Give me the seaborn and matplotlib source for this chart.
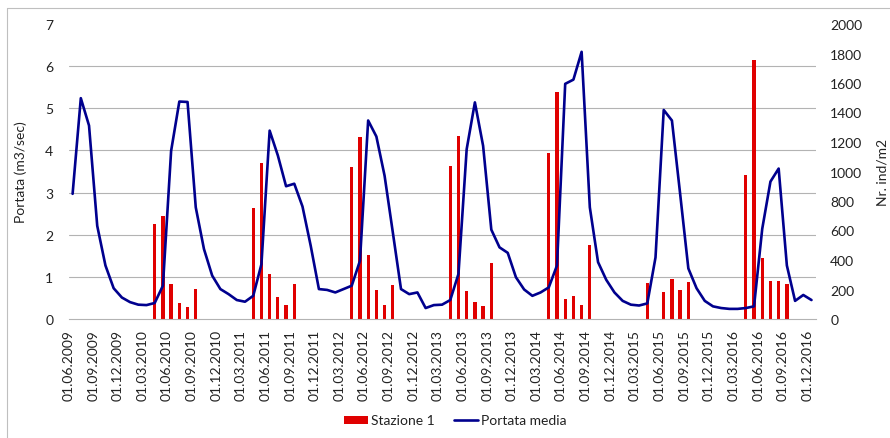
import numpy as np
import pandas as pd
import matplotlib
matplotlib.use("Agg")
import matplotlib.pyplot as plt
from matplotlib.lines import Line2D
from matplotlib.patches import Patch
from matplotlib.ticker import FixedLocator
import seaborn as sns

# Monthly series, June 2009 - December 2016
months = pd.period_range("2009-06", "2016-12", freq="M")

# Mean discharge (m3/sec), one value per month
portata_media = [
    2.97, 5.24, 4.59, 2.21, 1.27, 0.73, 0.51,
    0.40, 0.34, 0.33, 0.38, 0.79, 3.99, 5.16, 5.15, 2.65, 1.66, 1.03, 0.71,
    0.59, 0.45, 0.41, 0.55, 1.30, 4.47, 3.88, 3.15, 3.21, 2.67, 1.74, 0.71,
    0.69, 0.63, 0.71, 0.79, 1.38, 4.71, 4.33, 3.40, 2.06, 0.71, 0.59, 0.63,
    0.26, 0.33, 0.34, 0.45, 1.07, 4.03, 5.14, 4.11, 2.12, 1.70, 1.57, 0.99,
    0.70, 0.55, 0.63, 0.75, 1.27, 5.58, 5.68, 6.34, 2.65, 1.35, 0.93, 0.63,
    0.43, 0.34, 0.32, 0.37, 1.46, 4.96, 4.71, 2.97, 1.20, 0.73, 0.43, 0.30,
    0.26, 0.24, 0.24, 0.26, 0.30, 2.14, 3.26, 3.57, 1.27, 0.43, 0.57, 0.45,
]

# Station 1 density (ind/m2), sampled April - September
campionamenti = [
    "2010-04", "2010-05", "2010-06", "2010-07", "2010-08", "2010-09",
    "2011-04", "2011-05", "2011-06", "2011-07", "2011-08", "2011-09",
    "2012-04", "2012-05", "2012-06", "2012-07", "2012-08", "2012-09",
    "2013-04", "2013-05", "2013-06", "2013-07", "2013-08", "2013-09",
    "2014-04", "2014-05", "2014-06", "2014-07", "2014-08", "2014-09",
    "2015-04", "2015-05", "2015-06", "2015-07", "2015-08", "2015-09",
    "2016-04", "2016-05", "2016-06", "2016-07", "2016-08", "2016-09",
]
stazione_1 = [
    644, 700, 237, 108, 79, 203,
    750, 1056, 305, 151, 97, 237,
    1028, 1236, 434, 197, 95, 233,
    1040, 1239, 192, 113, 90, 378,
    1125, 1537, 136, 154, 95, 502,
    242, 0, 181, 271, 197, 253,
    976, 1756, 414, 260, 255, 237,
]

df_line = pd.DataFrame({"pos": np.arange(len(months)), "portata": portata_media})
month_pos = {str(m): i for i, m in enumerate(months)}
df_bar = pd.DataFrame({
    "pos": [month_pos[m] for m in campionamenti],
    "ind": stazione_1,
})

sns.set_style("white")
plt.rcParams["font.family"] = ["Lato", "DejaVu Sans"]
plt.rcParams["font.size"] = 10

RED = "#E00000"
BLUE = "#00008E"
GRID = "#B3B3B3"
TXT = "#222222"

W, H = 890, 439
fig = plt.figure(figsize=(W / 100, H / 100), dpi=100)
x0, x1, y_top, y_bot = 68.5, 815.6, 25, 320
rect = [x0 / W, 1 - y_bot / H, (x1 - x0) / W, (y_bot - y_top) / H]

# Bars on the bottom axes (right-hand scale), line on the twin (left-hand scale)
ax_bar = fig.add_axes(rect)
ax_line = ax_bar.twinx()

sns.barplot(data=df_bar, x="pos", y="ind", native_scale=True, width=0.4,
            color=RED, saturation=1, linewidth=0, ax=ax_bar, zorder=2)
sns.lineplot(data=df_line, x="pos", y="portata", color=BLUE, linewidth=1.9,
             ax=ax_line, zorder=3)

ax_bar.set_xlim(-0.5, len(months) - 0.5)
ax_bar.set_ylim(0, 2000)
ax_line.set_ylim(0, 7)

# Right axis (density)
ax_bar.yaxis.tick_right()
ax_bar.yaxis.set_label_position("right")
ax_bar.set_yticks(np.arange(0, 2001, 200))
ax_bar.set_ylabel("Nr. ind/m2", color=TXT)
ax_bar.yaxis.set_label_coords(1.082, 0.5)

# Left axis (discharge)
ax_line.yaxis.tick_left()
ax_line.yaxis.set_label_position("left")
ax_line.set_yticks(np.arange(0, 8, 1))
ax_line.set_ylabel("Portata (m3/sec)", color=TXT)
ax_line.yaxis.set_label_coords(-0.0556, 0.5)

# Horizontal gridlines follow the left scale, drawn behind the bars
ax_bar.yaxis.set_minor_locator(FixedLocator(np.arange(1, 8) * 2000 / 7))
ax_bar.grid(which="minor", axis="y", color=GRID, linewidth=0.8, zorder=0)
ax_bar.grid(which="major", visible=False)
ax_bar.tick_params(axis="y", which="minor", length=0)
ax_bar.set_axisbelow(True)

# Quarterly date ticks at month boundaries
tick_idx = np.arange(0, len(months), 3)
ax_bar.set_xticks(tick_idx - 0.5)
ax_bar.set_xticklabels([months[i].strftime("01.%m.%Y") for i in tick_idx],
                       rotation=90, color=TXT)
ax_bar.set_xlabel("")
ax_line.set_xlabel("")

ax_bar.tick_params(axis="x", length=3.6, width=0.8, color=GRID, pad=3.6)
ax_bar.tick_params(axis="y", which="major", length=0, pad=10.5, labelcolor=TXT)
ax_line.tick_params(axis="y", length=0, pad=11, labelcolor=TXT)

for a in (ax_bar, ax_line):
    for s in ("top", "left", "right"):
        a.spines[s].set_visible(False)
    a.spines["bottom"].set_color(GRID)
    a.spines["bottom"].set_linewidth(0.8)
ax_line.spines["bottom"].set_visible(False)

# Legend below the axes
handles = [Patch(facecolor=RED, edgecolor="none"),
           Line2D([0], [0], color=BLUE, linewidth=1.9)]
fig.legend(handles, ["Stazione 1", "Portata media"], loc="center",
           bbox_to_anchor=(455 / W, 1 - 421.5 / H), ncol=2, frameon=False,
           handlelength=1.75, handleheight=0.5, handletextpad=0.2,
           columnspacing=1.35, fontsize=10, labelcolor=TXT)

# Chart-area frame
fig.add_artist(Line2D([7 / W, 1], [1 - 9 / H, 1 - 9 / H], transform=fig.transFigure,
                      color="#BFBFBF", linewidth=0.8))
fig.add_artist(Line2D([7 / W, 7 / W], [0, 1 - 9 / H], transform=fig.transFigure,
                      color="#BFBFBF", linewidth=0.8))

fig.savefig("out.png", dpi=100)
